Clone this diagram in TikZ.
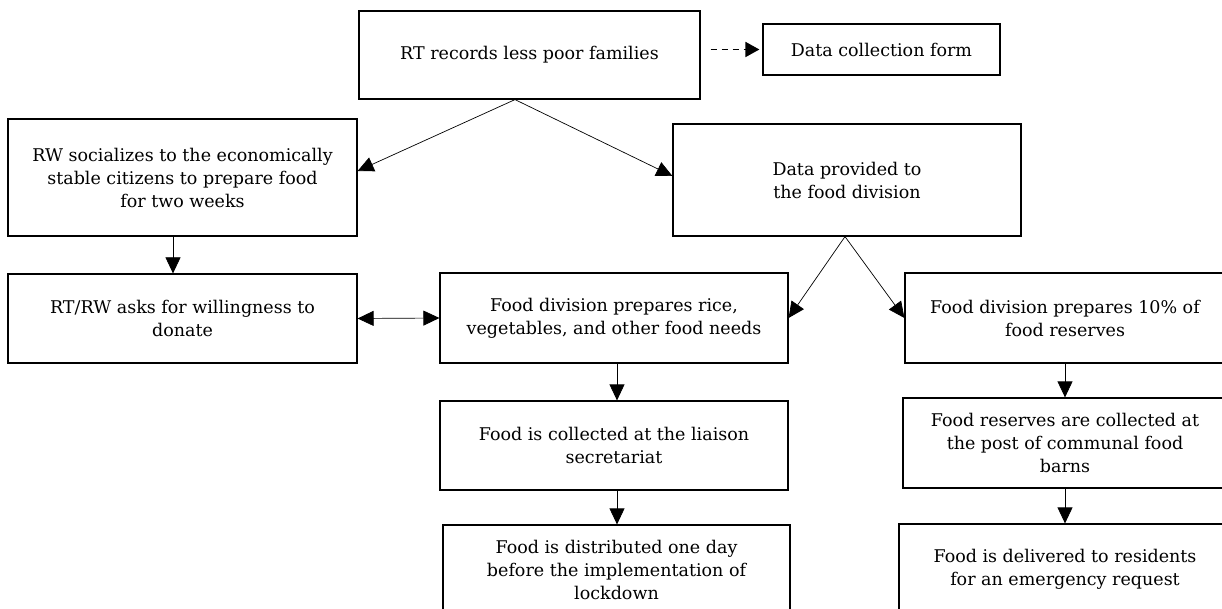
\documentclass[tikz,border=0pt]{standalone}
\usepackage{fontspec}
\setmainfont{DejaVu Serif}
\usetikzlibrary{arrows.meta}
\begin{document}
\begin{tikzpicture}[x=1pt,y=-1pt,
  box/.style={draw=black, line width=1.2pt, inner sep=0pt, align=center,
    font=\fontsize{17.5}{23}\selectfont},
  conn/.style={draw=black, line width=0.7pt, -{Triangle[length=16pt,width=15pt]}},
  dconn/.style={conn, {Triangle[length=16pt,width=15pt]}-{Triangle[length=16pt,width=15pt]}},
  dasharrow/.style={draw=black, line width=1.8pt, dash pattern=on 6pt off 5pt,
    -{Triangle[length=14pt,width=15pt]}}]
\useasboundingbox (0,0) rectangle (1222,609);

\node[box, minimum width=341pt, minimum height=88pt] (top) at (529.5,55) {RT records less poor families};
\node[box, minimum width=237pt, minimum height=51pt] (dc) at (881.5,49.5) {Data collection form};
\node[box, minimum width=349pt, minimum height=117pt] (rw) at (182.5,177.5) {RW socializes to the economically\\stable citizens to prepare food\\for two weeks};
\node[box, minimum width=348pt, minimum height=112pt] (dp) at (847,180) {Data provided to\\the food division};
\node[box, minimum width=349pt, minimum height=89pt] (rtrw) at (182.5,318.5) {RT/RW asks for willingness to\\donate};
\node[box, minimum width=348pt, minimum height=90pt] (rice) at (614,318) {Food division prepares rice,\\vegetables, and other food needs};
\node[box, minimum width=320pt, minimum height=90pt] (ten) at (1065,318) {Food division prepares 10\% of\\food reserves};
\node[box, minimum width=348pt, minimum height=89pt] (coll) at (614,445.5) {Food is collected at the liaison\\secretariat};
\node[box, minimum width=324pt, minimum height=90pt] (res) at (1065,443) {Food reserves are collected at\\the post of communal food\\barns};
\node[box, minimum width=347pt, minimum height=90pt] (dist) at (616.5,570) {Food is distributed one day\\before the implementation of\\lockdown};
\node[box, minimum width=332pt, minimum height=90pt] (deliv) at (1065,569) {Food is delivered to residents\\for an emergency request};

\draw[dasharrow, shorten <=10pt, shorten >=3pt] (top.east |- dc.west) -- (dc.west);

\coordinate (apexA) at ([xshift=-14.5pt]top.south);
\draw[conn] (apexA) -- ([yshift=6.5pt]rw.east);
\draw[conn] (apexA) -- ([yshift=4pt]dp.west);

\coordinate (apexB) at ([xshift=-2pt]dp.south);
\draw[conn] (apexB) -- (rice.east);
\draw[conn] (apexB) -- (ten.west);

\draw[conn] ([xshift=-9.5pt]rw.south) -- ([xshift=-9.5pt]rtrw.north);
\draw[dconn] (rtrw.east) -- (rice.west);
\draw[conn] ([xshift=3pt]rice.south) -- ([xshift=3pt]coll.north);
\draw[conn] ([xshift=3pt]coll.south) -- ([xshift=0.5pt]dist.north);
\draw[conn] (ten.south) -- (res.north);
\draw[conn] (res.south) -- (deliv.north);
\end{tikzpicture}
\end{document}
